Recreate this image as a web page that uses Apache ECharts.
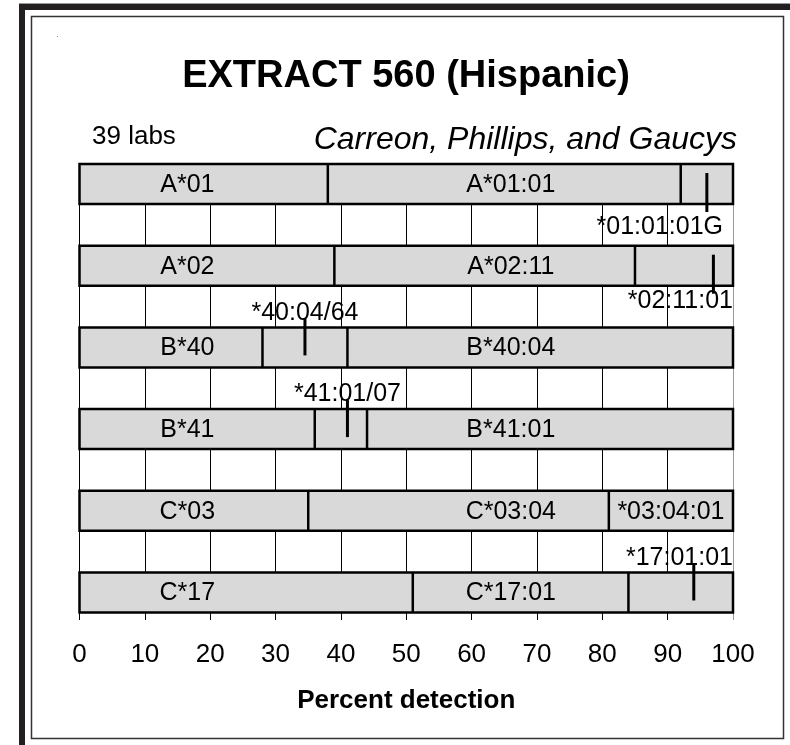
<!DOCTYPE html>
<html>
<head>
<meta charset="utf-8">
<script src="https://cdn.jsdelivr.net/npm/echarts@6/dist/echarts.min.js"></script>
<style>
  html, body { margin: 0; padding: 0; background: #fff; }
  #main { width: 790px; height: 745px; }
</style>
</head>
<body>
<div id="main"></div>
<script>
  // rows, top to bottom
  var groupLabels = ['A*01', 'A*02', 'B*40', 'B*41', 'C*03', 'C*17'];
  var alleleLabels = ['A*01:01', 'A*02:11', 'B*40:04', 'B*41:01', 'C*03:04', 'C*17:01'];
  var thirdLabels = ['', '', '', '', '*03:04:01', ''];
  // segment boundaries (percent detection)
  var cut1 = [38, 39, 28, 36, 35, 51];
  var cut2 = [92, 85, 41, 44, 81, 84];
  // allele detail markers
  var markerAt = [96, 97, 34.5, 41, null, 94];
  var markerLabels = ['*01:01:01G', '*02:11:01', '*40:04/64', '*41:01/07', '', '*17:01:01'];
  var markerSide = ['below', 'below', 'above', 'above', null, 'above'];
  var xTicks = [0, 10, 20, 30, 40, 50, 60, 70, 80, 90, 100];

  var FONT = '"Liberation Sans", Arial, sans-serif';
  var BAR_H = 0.49;
  // small hand nudges for the note labels (px)
  var noteNudge = [[-10, 8], [0, 0], [0, 0], [0, 0], [0, 0], [0, 0]];

  var measureCtx = document.createElement('canvas').getContext('2d');
  function textWidth(str, size) {
    measureCtx.font = size + 'px ' + FONT;
    return measureCtx.measureText(str).width;
  }

  var chart = echarts.init(document.getElementById('main'), null, { renderer: 'canvas' });

  function renderRow(params, api) {
    var i = api.value(0);
    var left = api.coord([0, i]);
    var right = api.coord([100, i]);
    var h = api.size([0, BAR_H])[1];
    var top = left[1] - h / 2;
    var bottom = left[1] + h / 2;
    var lw = 2.5;
    var kids = [];

    kids.push({
      type: 'rect',
      shape: { x: left[0], y: top, width: right[0] - left[0], height: h },
      style: { fill: '#d9d9d9', stroke: '#000', lineWidth: lw }
    });
    [cut1[i], cut2[i]].forEach(function (c) {
      var x = api.coord([c, i])[0];
      kids.push({
        type: 'line',
        shape: { x1: x, y1: top, x2: x, y2: bottom },
        style: { stroke: '#000', lineWidth: lw }
      });
    });

    function label(txt, xv) {
      if (!txt) return;
      var p = api.coord([xv, i]);
      kids.push({
        type: 'text',
        x: p[0], y: p[1] + 1,
        style: { text: txt, font: '25px ' + FONT, fill: '#000', align: 'center', verticalAlign: 'middle' }
      });
    }
    label(groupLabels[i], 16.5);
    label(alleleLabels[i], 66);
    label(thirdLabels[i], (cut2[i] + 100) / 2);

    if (markerAt[i] != null) {
      var mx = api.coord([markerAt[i], i])[0];
      var below = markerSide[i] === 'below';
      var y1 = below ? left[1] - 11 : top - 9;
      var y2 = below ? bottom + 8 : left[1] + 8;
      kids.push({
        type: 'line',
        shape: { x1: mx, y1: y1, x2: mx, y2: y2 },
        style: { stroke: '#000', lineWidth: 3 }
      });
      var w = textWidth(markerLabels[i], 25);
      var tx = mx;
      var align = 'center';
      if (mx + w / 2 > right[0]) { tx = right[0]; align = 'right'; }
      kids.push({
        type: 'text',
        x: tx + noteNudge[i][0], y: (below ? bottom + 3 : top - 2) + noteNudge[i][1],
        style: {
          text: markerLabels[i], font: '25px ' + FONT, fill: '#000',
          align: align, verticalAlign: below ? 'top' : 'bottom'
        }
      });
    }
    return { type: 'group', children: kids };
  }

  var rows = groupLabels.map(function (g, i) { return [i]; });

  chart.setOption({
    animation: false,
    backgroundColor: '#fff',
    grid: { left: 79.5, right: 57, top: 164, bottom: 125, containLabel: false },
    xAxis: {
      type: 'value', min: 0, max: 100, interval: 10,
      axisLine: { show: false },
      axisTick: { show: false },
      axisLabel: {
        color: '#000', fontSize: 26, fontFamily: FONT, margin: 22,
        formatter: function (v) { return xTicks.indexOf(v) >= 0 ? String(v) : ''; }
      },
      splitLine: {
        show: true,
        lineStyle: {
          width: 1,
          color: ['#000', '#000', '#000', '#000', '#000', '#000', '#000', '#000', '#000', '#000', '#999']
        }
      },
      name: 'Percent detection',
      nameLocation: 'middle',
      nameGap: 68,
      nameTextStyle: { color: '#000', fontSize: 26, fontWeight: 'bold', fontFamily: FONT }
    },
    yAxis: {
      type: 'value', inverse: true, min: -0.245, max: 5.337, show: false,
      splitLine: { show: false }
    },
    graphic: [
      // outer frame
      { type: 'rect', shape: { x: 19, y: 3, width: 771, height: 1 }, style: { fill: '#999' } },
      { type: 'rect', shape: { x: 19, y: 4, width: 771, height: 6 }, style: { fill: '#231f20' } },
      { type: 'rect', shape: { x: 19, y: 4, width: 6, height: 741 }, style: { fill: '#231f20' } },
      { type: 'rect', shape: { x: 31.5, y: 16.5, width: 752, height: 722 }, style: { fill: null, stroke: '#333', lineWidth: 1.5 } },
      { type: 'rect', shape: { x: 57, y: 36, width: 1, height: 1 }, style: { fill: '#888' } },
      // titles
      { type: 'text', x: 406, y: 77, style: { text: 'EXTRACT 560 (Hispanic)', font: 'bold 38px ' + FONT, fill: '#000', align: 'center', verticalAlign: 'middle' } },
      { type: 'text', x: 92, y: 137, style: { text: '39 labs', font: '26px ' + FONT, fill: '#000', align: 'left', verticalAlign: 'middle' } },
      { type: 'text', x: 737, y: 140, style: { text: 'Carreon, Phillips, and Gaucys', font: 'italic 32px ' + FONT, fill: '#000', align: 'right', verticalAlign: 'middle' } }
    ],
    series: [{
      type: 'custom',
      renderItem: renderRow,
      data: rows,
      encode: { x: -1, y: 0 },
      silent: true
    }]
  });
</script>
</body>
</html>
